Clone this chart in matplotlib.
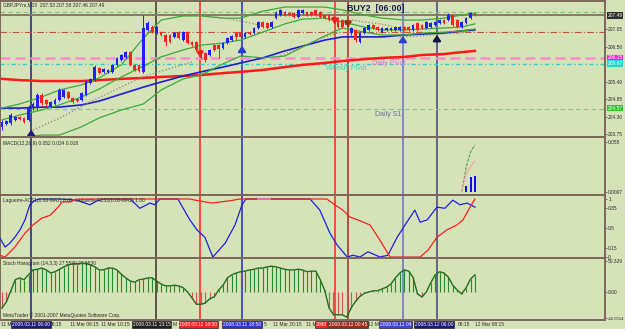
import matplotlib
matplotlib.use('Agg')
import matplotlib.pyplot as plt
import matplotlib.transforms as mtransforms

plt.rcParams['font.family'] = ['Liberation Sans', 'DejaVu Sans']

# ---------------- data ----------------
# GBPJPYm M15 candles, oldest first
opens = [203.98, 204.07, 204.10, 204.20, 204.29, 204.26, 204.20, 204.57, 204.57, 204.98,
         204.83, 204.60, 204.70, 204.83, 204.92, 205.08, 204.89, 204.86, 204.83, 204.98,
         205.36, 205.45, 205.83, 205.71, 205.71, 205.71, 205.93, 206.08, 206.18, 206.33,
         205.93, 205.93, 205.71, 207.03, 207.12, 206.93, 206.96, 206.87, 206.87, 206.81,
         206.96, 206.71, 206.96, 206.65, 206.65, 206.40, 206.30, 206.24, 206.55, 206.55,
         206.46, 206.62, 206.71, 206.93, 206.96, 206.81, 206.96, 206.93, 207.09, 207.28,
         207.25, 207.12, 207.40, 207.50, 207.59, 207.56, 207.56, 207.44, 207.56, 207.59,
         207.59, 207.66, 207.59, 207.50, 207.50, 207.44, 207.40, 207.34, 207.34, 206.93,
         207.03, 206.65, 206.93, 207.03, 207.18, 207.12, 206.96, 207.03, 207.03, 207.03,
         207.03, 207.12, 207.12, 207.03, 207.25, 207.18, 207.09, 207.12, 207.18, 207.25,
         207.34, 207.34, 207.50, 207.34, 207.12, 207.25, 207.40, 207.53]
closes = [204.13, 204.16, 204.35, 204.29, 204.23, 204.13, 204.60, 204.70, 204.98, 204.73,
          204.70, 204.76, 204.83, 205.14, 205.14, 204.89, 204.76, 204.79, 205.05, 205.39,
          205.49, 205.86, 205.67, 205.80, 205.77, 205.93, 206.15, 206.24, 206.33, 205.93,
          205.77, 205.74, 207.09, 207.25, 206.96, 207.12, 206.87, 206.65, 206.65, 206.93,
          206.77, 206.96, 206.62, 206.55, 206.40, 206.15, 206.08, 206.40, 206.40, 206.43,
          206.62, 206.77, 206.84, 206.81, 206.81, 206.93, 206.90, 207.09, 207.28, 207.12,
          207.09, 207.28, 207.56, 207.66, 207.50, 207.50, 207.44, 207.66, 207.66, 207.50,
          207.50, 207.50, 207.44, 207.40, 207.34, 207.34, 207.12, 207.12, 207.18, 207.09,
          206.71, 206.93, 207.09, 207.18, 207.09, 207.03, 207.09, 207.09, 207.09, 207.12,
          207.12, 207.03, 207.03, 207.18, 207.03, 207.09, 207.28, 207.25, 207.28, 207.34,
          207.25, 207.50, 207.18, 207.12, 207.28, 207.40, 207.56, 207.49]
highs = [204.20, 204.20, 204.42, 204.33, 204.33, 204.29, 204.67, 204.76, 205.05, 205.05,
         204.86, 204.80, 204.89, 205.20, 205.17, 205.11, 204.92, 204.89, 205.08, 205.45,
         205.52, 205.93, 205.86, 205.83, 205.80, 205.96, 206.18, 206.27, 206.37, 206.37,
         205.96, 205.96, 207.50, 207.31, 207.18, 207.15, 207.00, 206.90, 206.90, 206.96,
         207.00, 207.00, 207.00, 206.68, 206.68, 206.43, 206.33, 206.43, 206.58, 206.58,
         206.65, 206.81, 206.87, 206.96, 207.00, 206.96, 207.00, 207.12, 207.31, 207.31,
         207.28, 207.31, 207.62, 207.69, 207.62, 207.59, 207.59, 207.69, 207.69, 207.62,
         207.62, 207.69, 207.62, 207.53, 207.53, 207.47, 207.44, 207.37, 207.37, 207.12,
         207.06, 206.96, 207.12, 207.22, 207.22, 207.15, 207.12, 207.12, 207.12, 207.15,
         207.15, 207.15, 207.15, 207.22, 207.28, 207.22, 207.31, 207.28, 207.31, 207.37,
         207.37, 207.56, 207.53, 207.37, 207.31, 207.44, 207.59, 207.58]
lows = [203.88, 204.04, 204.04, 204.16, 204.20, 204.10, 204.16, 204.51, 204.51, 204.67,
        204.64, 204.57, 204.67, 204.80, 204.89, 204.86, 204.73, 204.76, 204.79, 204.95,
        205.33, 205.42, 205.64, 205.67, 205.67, 205.67, 205.89, 206.05, 206.15, 205.89,
        205.74, 205.71, 205.67, 206.99, 206.93, 206.90, 206.84, 206.52, 206.62, 206.77,
        206.74, 206.68, 206.58, 206.52, 206.37, 206.11, 206.02, 206.20, 206.37, 206.15,
        206.43, 206.58, 206.68, 206.71, 206.77, 206.77, 206.87, 206.90, 207.06, 207.09,
        207.06, 207.09, 207.37, 207.47, 207.47, 207.47, 207.40, 207.40, 207.53, 207.47,
        207.47, 207.47, 207.40, 207.37, 207.31, 207.31, 207.09, 207.09, 207.15, 206.87,
        206.65, 206.62, 206.90, 207.00, 207.06, 207.00, 206.93, 207.00, 207.00, 207.00,
        207.00, 207.00, 207.00, 207.00, 207.00, 207.06, 207.06, 207.09, 207.15, 207.22,
        207.22, 207.31, 207.15, 207.09, 207.09, 207.22, 207.37, 207.46]

# moving averages / Bollinger bands, sampled along the chart (bar index, price)
ma_bars = [0, 4, 9, 13, 18, 22, 27, 32, 36, 41, 45, 50, 54, 59, 64, 68, 73, 77, 82, 86, 91, 95, 100, 104, 107]
ma_slow = [205.49, 205.45, 205.42, 205.42, 205.42, 205.45, 205.49, 205.52, 205.55, 205.58, 205.61, 205.67, 205.71,
           205.77, 205.86, 205.93, 205.99, 206.05, 206.11, 206.15, 206.18, 206.24, 206.27, 206.33, 206.37]
ma_fast = [204.57, 204.57, 204.60, 204.60, 204.67, 204.79, 205.01, 205.23, 205.39, 205.58, 205.71, 205.86, 205.99,
           206.15, 206.37, 206.52, 206.71, 206.81, 206.81, 206.81, 206.87, 206.90, 206.93, 207.00, 207.03]
bb_upper = [204.57, 204.70, 204.92, 205.14, 205.30, 205.52, 205.93, 206.77, 207.34, 207.47, 207.47, 207.40, 207.40,
            207.62, 207.75, 207.75, 207.75, 207.66, 207.50, 207.40, 207.34, 207.34, 207.40, 207.50, 207.56]
bb_mid = [204.20, 204.35, 204.51, 204.67, 204.92, 205.17, 205.55, 205.89, 206.18, 206.40, 206.55, 206.62, 206.71,
          206.96, 207.22, 207.37, 207.40, 207.28, 207.12, 207.03, 207.03, 207.06, 207.09, 207.12, 207.22]
bb_lower = [203.57, 203.63, 203.72, 203.72, 203.98, 204.26, 204.51, 204.70, 205.14, 205.49, 205.61, 205.96, 206.21,
            206.15, 206.21, 206.49, 206.84, 207.09, 206.96, 206.87, 206.87, 206.93, 206.96, 207.00, 207.06]

# parabolic SAR runs (bar, price)
sar_runs = [
    ([7.0, 13.1, 19.9, 25.6, 31.2, 36.9, 43.0], [203.88, 204.26, 204.76, 205.14, 205.52, 205.77, 206.02]),
    ([44.8, 48.2, 51.6, 55.0, 58.4], [207.50, 207.44, 207.37, 207.28, 207.18]),
    ([62.4, 66.3, 69.7, 73.1, 76.5], [206.18, 206.40, 206.62, 206.81, 206.96]),
    ([79.2, 82.1, 85.5, 88.2], [207.34, 207.28, 207.22, 207.15]),
    ([90.0, 94.6, 99.1, 103.6, 107.0], [206.81, 206.84, 206.90, 206.93, 207.00]),
]

# pivot levels
last_price = 207.49
daily_r1 = 207.60
weekly_r1 = 206.96
daily_pivot = 206.15
weekly_pivot = 205.97
daily_s1 = 204.55
price_ticks = [207.05, 206.50, 205.40, 204.85, 204.30, 203.75]

# signal markers
up_bars = [6.6, 54.3, 90.7, 98.4]
up_tips = [203.98, 206.62, 206.93, 206.96]
up_colors = ['#1c1c80', '#2a3ccc', '#2e44cc', '#14144c']
down_bars = [44.8, 75.3, 78.3]
down_tips = [206.08, 207.12, 207.03]
down_colors = ['#ee2020', '#ee2020', '#8a3418']

# vertical event lines (bar), colours and time boxes
event_bars = [6.6, 34.8, 44.8, 54.3, 75.3, 78.3, 90.7, 98.4]
event_colors = ['#1c1c88', '#3c3028', '#ff1c1c', '#2424dd', '#ff2020', '#a82820', '#6a6ad0', '#404080']
# box texts as far as they are visible (some boxes sit partly under their neighbour)
box_texts = ['2008.03.11 06:00', '2008.03.11 13:15', '2008.03.11 18:00', '2008.03.11 18:58',
             '2008', '2008.03.12 00:45', '2008.03.12 04', '2008.03.12 06:00']
box_bars = [6.6, 33.9, 44.4, 54.3, 72.2, 78.3, 89.1, 97.7]
box_colors = ['#1a1a80', '#202020', '#ff2020', '#3030e0', '#ff2020', '#a02818', '#4040e0', '#1a1a80']

# visible parts of the time-axis labels (the rest is hidden behind the boxes)
time_labels = ['11 M', '06:15', '11 Mar 06:15', '11 Mar 10:15', 'M', '5', '11 Mar 20:15', '11 M',
               '12 M', '06:15', '12 Mar 08:15']
time_label_bars = [-0.3, 10.9, 15.4, 22.4, 38.5, 59.3, 61.3, 68.7, 82.9, 103.2, 107.0]

# MACD (12,26,9)
macd_bars = [104, 105, 106, 107]
macd_main = [0.0, 0.027, 0.044, 0.052]
macd_signal = [0.0, 0.020, 0.028, 0.034]
macd_hist_bars = [105, 106, 107]
macd_hist = [0.007, 0.017, 0.018]

# Laguerre lines
lag_fast_bars = [-0.5, 0.7, 1.8, 2.9, 4.1, 5.2, 6.3, 7.5, 8.6, 13.1, 17.0, 18.8, 19.9, 21.5, 23.3, 29.0, 31.2,
                 33.5, 34.6, 35.7, 39.8, 42.5, 44.1, 45.9, 47.7, 50.5, 52.7, 54.3, 55.2, 69.7, 71.9, 74.2,
                 75.8, 78.1, 79.4, 81.0, 82.8, 85.5, 87.3, 89.4, 91.6, 93.4, 94.6, 96.2, 98.4, 100.2, 102.0,
                 103.6, 105.2, 107.0]
lag_fast = [0.33, 0.17, 0.24, 0.34, 0.47, 0.64, 0.90, 0.98, 1.0, 1.0, 0.98, 0.93, 0.90, 0.97, 1.0, 1.0, 0.84,
            0.93, 0.90, 1.0, 1.0, 0.64, 0.47, 0.34, 0.0, 0.24, 0.55, 0.90, 1.0, 1.0, 0.81, 0.41, 0.21, 0.0,
            0.03, 0.0, 0.09, 0.0, 0.03, 0.34, 0.60, 0.81, 0.60, 0.64, 0.86, 0.84, 0.98, 0.90, 0.93, 0.86]
lag_slow_bars = [-0.5, 0.7, 2.9, 5.2, 7.0, 9.0, 10.9, 12.7, 13.6, 15.4, 17.2, 42.5, 43.7, 47.5, 51.6, 53.8,
                 73.5, 75.3, 77.1, 78.7, 80.5, 83.3, 85.5, 87.8, 94.6, 96.4, 98.4, 100.7, 102.9, 104.3,
                 105.9, 107.0]
lag_slow = [0.03, 0.0, 0.17, 0.41, 0.55, 0.67, 0.72, 0.86, 0.95, 0.95, 1.0, 1.0, 0.98, 0.93, 0.97, 1.0,
            1.0, 0.90, 0.81, 0.69, 0.64, 0.55, 0.29, 0.0, 0.0, 0.12, 0.34, 0.47, 0.55, 0.64, 0.86, 1.0]
lag_pink_bars = [58.0, 60.7]
lag_pink = [1.0, 1.0]

# Stoch histogram, one value per bar
stoch = [-26, -16, 2, 20, 23, 20, 28, 36, 37, 39, 36, 31, 33, 37, 41, 44, 46, 46, 47, 47,
         44, 41, 36, 36, 39, 39, 36, 29, 23, 18, 16, 20, 21, 23, 23, 18, 13, 10, 10, 11,
         10, 7, 0, -10, -20, -20, -18, -11, -8, 3, 11, 23, 28, 31, 33, 34, 36, 37, 39, 39,
         41, 42, 41, 39, 37, 36, 36, 37, 36, 33, 34, 34, 20, 3, -26, -37, -37, -37, -41, -26,
         -15, -7, -2, 0, 2, 2, 5, 8, 13, 23, 31, 36, 34, 24, -3, -8, 0, 15, 28, 33,
         31, 24, 11, 3, -3, 7, 21, 28]

# ---------------- layout (pixel based) ----------------
W, H = 625, 329
BG = '#d6e2b8'
FRAME = '#7a6858'
TXT = '#2a2a2a'
PITCH = 4.42
XMIN, XMAX = -0.45, (605 - 2) / PITCH

fig = plt.figure(figsize=(W / 100, H / 100), dpi=100, facecolor=BG)


def panel(top, bottom):
    ax = fig.add_axes([0, 1 - bottom / H, 605 / W, (bottom - top) / H], facecolor=BG)
    ax.set_xlim(XMIN, XMAX)
    for s in ax.spines.values():
        s.set_color(FRAME)
        s.set_linewidth(1.4)
    ax.set_xticks([])
    ax.yaxis.tick_right()
    ax.tick_params(axis='y', length=1.5, width=0.6, color='#555555', labelsize=3.5, labelcolor=TXT, pad=0.8)
    return ax


def ftext(px, py, s, **kw):
    fig.text(px / W, 1 - py / H, s, **kw)


ax_main = panel(1, 137)
ax_macd = panel(137, 195)
ax_lag = panel(195, 258)
ax_sto = panel(258, 320)

# event lines across every panel
for ax in (ax_main, ax_macd, ax_lag, ax_sto):
    for b, c in zip(event_bars, event_colors):
        ax.axvline(b, color=c, lw=1.1, zorder=1)

# ---- main price panel ----
ax = ax_main
ax.set_ylim(203.66, 207.94)
ax.axhline(daily_r1, color='#7fc27f', lw=0.8, dashes=(4, 3), zorder=2)
ax.axhline(weekly_r1, color='#c85040', lw=0.8, dashes=(6, 2, 1, 2), zorder=2)
ax.axhline(daily_pivot, color='#ff8cc8', lw=1.8, dashes=(4, 2), zorder=2)
ax.axhline(weekly_pivot, color='#30d0d0', lw=1.0, dashes=(3, 2, 1, 2), zorder=2)
ax.axhline(daily_s1, color='#86c486', lw=0.8, dashes=(4, 3), zorder=2)
ax.axhline(last_price, color='#8a7868', lw=1.4, zorder=2)

ax.plot(ma_bars, ma_slow, color='#ff1a1a', lw=1.8, zorder=3)
ax.plot(ma_bars, ma_fast, color='#1e1ed0', lw=1.2, zorder=3)
for band in (bb_upper, bb_mid, bb_lower):
    ax.plot(ma_bars, band, color='#3aac3a', lw=0.9, zorder=3)
for xs, ys in sar_runs:
    ax.plot(xs, ys, color='#8a8878', lw=0.9, ls=':', zorder=3)

bars_x = list(range(len(opens)))
cols = ['#2020ff' if c >= o else '#ff2020' for o, c in zip(opens, closes)]
ax.vlines(bars_x, lows, highs, colors=cols, lw=0.7, zorder=4)
ax.bar(bars_x, [max(abs(c - o), 0.012) for o, c in zip(opens, closes)],
       bottom=[min(o, c) for o, c in zip(opens, closes)], width=0.62, color=cols, zorder=5)

for b, tip, c in zip(up_bars, up_tips, up_colors):
    ax.annotate('', xy=(b, tip), xytext=(b, tip - 0.32),
                arrowprops=dict(arrowstyle='-|>,head_width=0.22,head_length=0.32', lw=1.6, color=c), zorder=6)
for b, tip, c in zip(down_bars, down_tips, down_colors):
    ax.annotate('', xy=(b, tip), xytext=(b, tip + 0.26),
                arrowprops=dict(arrowstyle='-|>,head_width=0.2,head_length=0.3', lw=1.4, color=c), zorder=6)

ax.text(78.0, 207.69, 'BUY2  [06:00]', fontsize=6.4, fontweight='bold', color='#1c1c4c', va='center', zorder=7)
ax.text(73.3, 205.80, 'Weekly Pivot', fontsize=5, color='#40d0c4', va='center', zorder=7)
ax.text(83.7, 205.96, 'Daily Pivot', fontsize=5, color='#f060f0', va='center', zorder=7)
ax.text(84.4, 204.38, 'Daily S1', fontsize=5, color='#6c6ca8', va='center', zorder=7)

ax.set_yticks(price_ticks)
ax.set_yticklabels([f'{v:.2f}' for v in price_ticks])
tr = mtransforms.blended_transform_factory(ax.transAxes, ax.transData)
for val, fc in [(last_price, '#2c2c2c'), (daily_pivot, '#ff20d0'), (weekly_pivot, '#20d8d0'), (204.57, '#30c030')]:
    ax.text(1.004, val, f'{val:.2f}', transform=tr, fontsize=3.5, color='white', va='center', ha='left',
            bbox=dict(boxstyle='square,pad=0.15', fc=fc, ec='none'), clip_on=False, zorder=8)

# ---- MACD panel ----
ax = ax_macd
ax.set_ylim(-0.0033, 0.0605)
ax.bar(macd_hist_bars, macd_hist, width=0.45, color='#1010e0', zorder=3)
ax.plot(macd_bars, macd_main, color='#2a8a2a', lw=0.6, ls='--', zorder=4)
ax.plot(macd_bars, macd_signal, color='#ffa0a0', lw=0.8, zorder=4)
ax.set_yticks([0.055, 0.0])
ax.set_yticklabels(['0.055', '0.0007'])

# ---- Laguerre panel ----
ax = ax_lag
ax.set_ylim(-0.017, 1.069)
ax.plot(lag_fast_bars, lag_fast, color='#2020e0', lw=0.9, zorder=3)
ax.plot(lag_slow_bars, lag_slow, color='#ff2020', lw=0.9, zorder=3)
ax.plot(lag_pink_bars, lag_pink, color='#ff60c0', lw=1.4, zorder=3)
ax.set_yticks([1, 0.85, 0.5, 0.15, 0])
ax.set_yticklabels(['1', '0.85', '0.5', '0.15', '0'])

# ---- Stoch histogram panel ----
ax = ax_sto
ax.set_ylim(-45.6, 55.4)
pos_x = [i for i, v in enumerate(stoch) if v >= 0]
neg_x = [i for i, v in enumerate(stoch) if v < 0]
ax.vlines(pos_x, 0, [stoch[i] for i in pos_x], colors='#2a8a2a', lw=0.8, zorder=3)
ax.vlines(neg_x, 0, [stoch[i] for i in neg_x], colors='#d85050', lw=0.8, zorder=3)
ax.plot(bars_x, stoch, color='#1f6f1f', lw=1.0, zorder=4)
ax.set_yticks([50.329, 0, -42.5514])
ax.set_yticklabels(['50.329', '0.00', '-42.5514'])
ax.get_yticklabels()[2].set_fontsize(3.1)

# time axis
trt = mtransforms.blended_transform_factory(ax.transData, ax.transAxes)
for s, b in zip(time_labels, time_label_bars):
    ax.text(b, -0.075, s, transform=trt, fontsize=3.5, color=TXT, ha='left', va='center', clip_on=False)
for s, b, fc in zip(box_texts, box_bars, box_colors):
    ax.text(b, -0.075, s, transform=trt, fontsize=3.5, color='white', ha='center', va='center', clip_on=False,
            bbox=dict(boxstyle='square,pad=0.15', fc=fc, ec='#101010', lw=0.4), zorder=9)

# indicator captions
ftext(3, 5, 'GBPJPYm,M15  207.53 207.58 207.46 207.49', fontsize=3.5, color=TXT, va='center')
ftext(3, 143, 'MACD(12,26,9) 0.052 0.034 0.018', fontsize=3.5, color=TXT, va='center')
ftext(3, 201, 'Laguerre-ACS1(0.80-MA2) 0.85  Laguerre-ACS1(0.80-MA2) 1.00', fontsize=3.5, color=TXT, va='center')
ftext(3, 264, 'Stoch Histogram (14,3,3) 27.5530 27.5530', fontsize=3.5, color=TXT, va='center')
ftext(3, 315, 'MetaTrader \u00a9 2001-2007 MetaQuotes Software Corp.', fontsize=3.5, color=TXT, va='center')

fig.savefig('out.png', dpi=100, facecolor=BG)
